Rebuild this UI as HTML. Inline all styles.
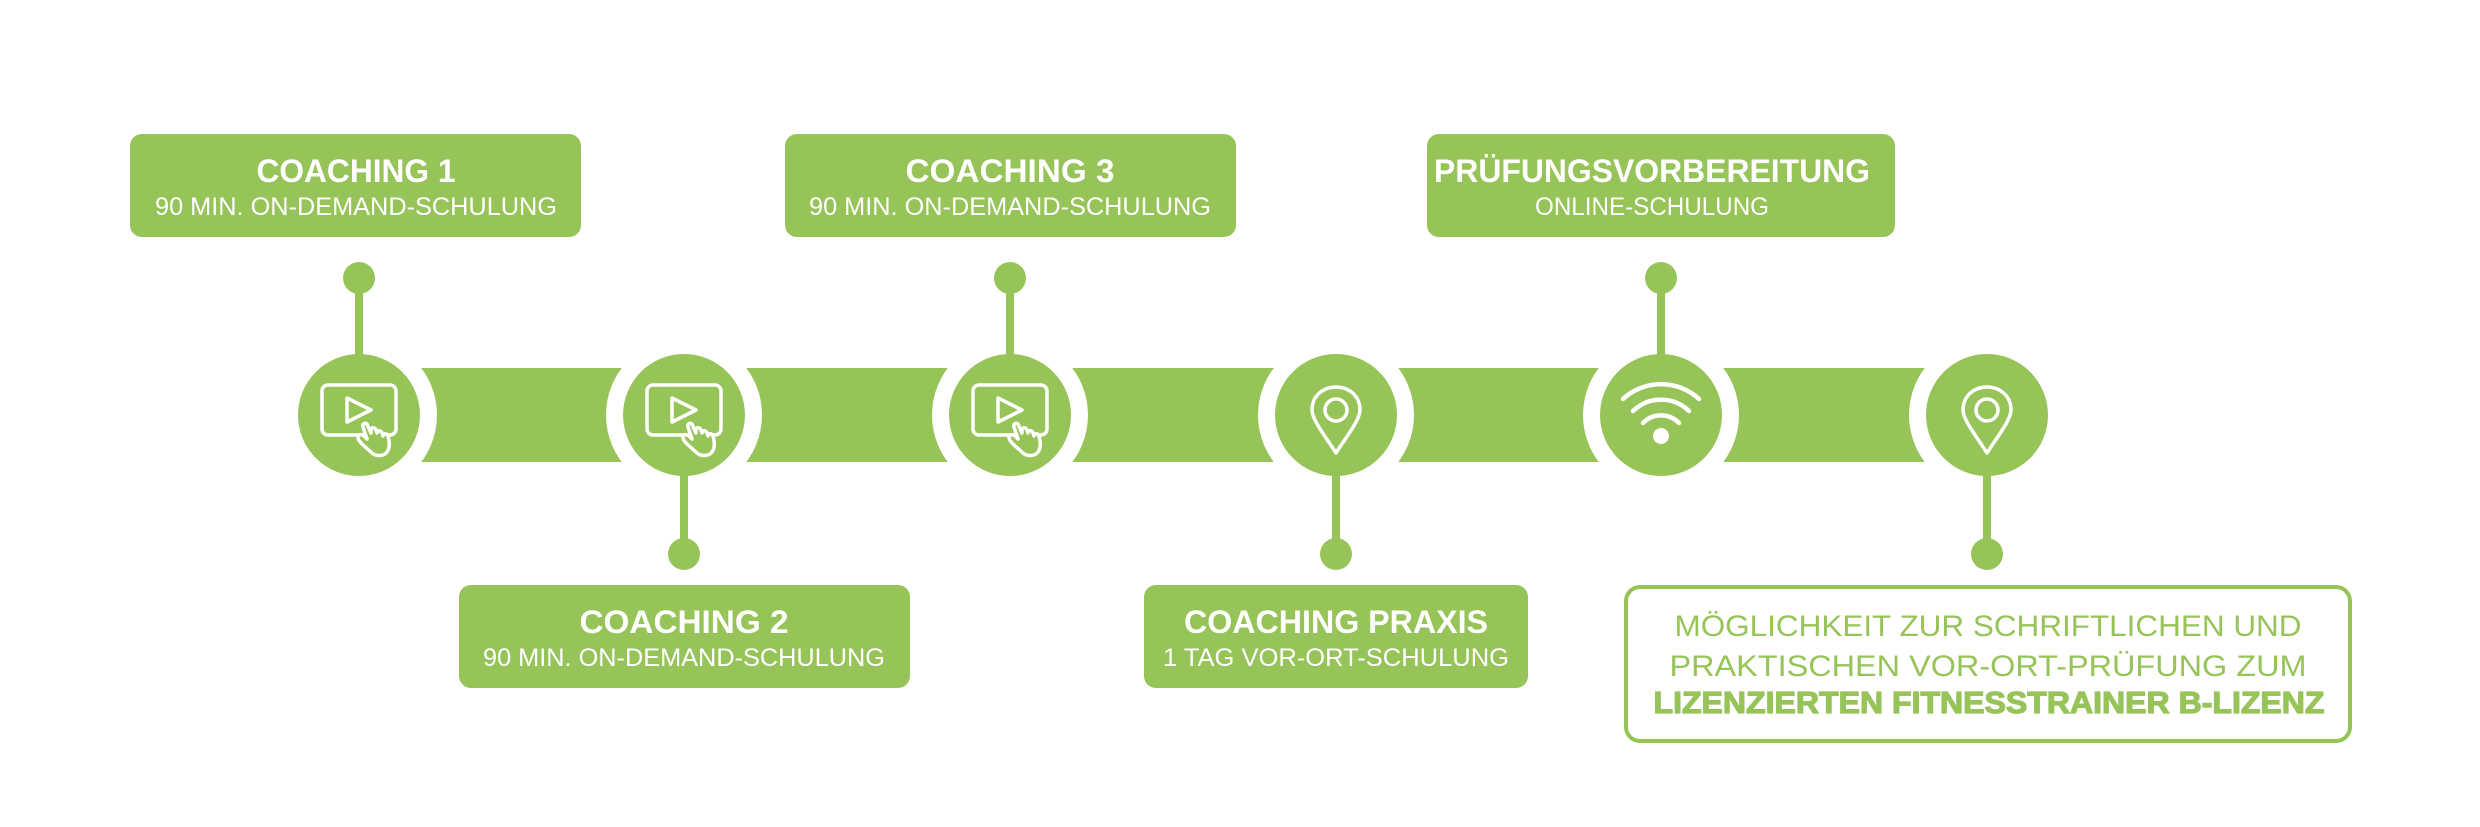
<!DOCTYPE html>
<html><head><meta charset="utf-8"><style>
html,body{margin:0;padding:0;background:#fff;}
svg{display:block;}
text{font-family:"Liberation Sans",sans-serif;}
</style></head><body>
<svg width="2480" height="827" viewBox="0 0 2480 827" xmlns="http://www.w3.org/2000/svg">
<defs>
<g id="play" fill="none" stroke="#fff" stroke-width="3.5" stroke-linejoin="round" stroke-linecap="round">
  <rect x="-37" y="-30" width="74" height="50" rx="6"/>
  <path d="M-12,-17 L12,-5 L-12,7 Z"/>
  <path d="M3,29 C-1,25 -2,22 0,20 C2,19 4,20 6,22 L8,24 L4,12 C3,9 6,7 8,9 L12,18 L12,15 C12,12 16,12 17,15 L18,18 C18,15 22,15 23,18 L24,21 C24,18 28,18 29,21 C31,28 31,33 28,37 C25,41 18,42 13,38 Z" fill="#97C459"/>
</g>
<g id="pin" fill="none" stroke="#fff" stroke-width="3.5" stroke-linejoin="round">
  <path d="M0,38 C-10,22 -24,5 -24,-5 C-24,-19 -13,-28 0,-28 C13,-28 24,-19 24,-5 C24,5 10,22 0,38 Z"/>
  <circle cx="0" cy="-5" r="11"/>
</g>
<g id="wifi" fill="none" stroke="#fff" stroke-width="4.5" stroke-linecap="round">
  <path d="M-38,-16 A56,56 0 0 1 38,-16"/>
  <path d="M-28,-4 A40,40 0 0 1 28,-4"/>
  <path d="M-18,8 A25,25 0 0 1 18,8"/>
  <ellipse cx="0" cy="21" rx="8" ry="8" fill="#fff" stroke="none"/>
</g>
</defs>
<g fill="#97C459">
<!-- band -->
<rect x="359" y="368" width="1628" height="94"/>
</g>
<g fill="#fff">
<circle cx="359" cy="415" r="78"/><circle cx="684" cy="415" r="78"/><circle cx="1010" cy="415" r="78"/>
<circle cx="1336" cy="415" r="78"/><circle cx="1661" cy="415" r="78"/><circle cx="1987" cy="415" r="78"/>
</g>
<g fill="#97C459">
<circle cx="359" cy="415" r="61"/><circle cx="684" cy="415" r="61"/><circle cx="1010" cy="415" r="61"/>
<circle cx="1336" cy="415" r="61"/><circle cx="1661" cy="415" r="61"/><circle cx="1987" cy="415" r="61"/>
<!-- connectors up -->
<rect x="355" y="278" width="8" height="80"/><circle cx="359" cy="278" r="16"/>
<rect x="1006" y="278" width="8" height="80"/><circle cx="1010" cy="278" r="16"/>
<rect x="1657" y="278" width="8" height="80"/><circle cx="1661" cy="278" r="16"/>
<!-- connectors down -->
<rect x="680" y="470" width="8" height="84"/><circle cx="684" cy="554" r="16"/>
<rect x="1332" y="470" width="8" height="84"/><circle cx="1336" cy="554" r="16"/>
<rect x="1983" y="470" width="8" height="84"/><circle cx="1987" cy="554" r="16"/>
<!-- boxes -->
<rect x="130" y="134" width="451" height="103" rx="12"/>
<rect x="785" y="134" width="451" height="103" rx="12"/>
<rect x="1427" y="134" width="468" height="103" rx="12"/>
<rect x="459" y="585" width="451" height="103" rx="12"/>
<rect x="1144" y="585" width="384" height="103" rx="12"/>
</g>
<rect x="1626" y="587" width="724" height="154" rx="14" fill="#fff" stroke="#97C459" stroke-width="4"/>
<use href="#play" x="359" y="415"/>
<use href="#play" x="684" y="415"/>
<use href="#play" x="1010" y="415"/>
<use href="#pin" x="1336" y="415"/>
<use href="#wifi" x="1661" y="415"/>
<use href="#pin" x="1987" y="415"/>
<g fill="#fff" text-anchor="middle">
<text x="356" y="182" font-size="32" font-weight="bold" textLength="199" lengthAdjust="spacingAndGlyphs">COACHING 1</text>
<text x="356" y="215" font-size="25" textLength="402" lengthAdjust="spacingAndGlyphs">90 MIN. ON-DEMAND-SCHULUNG</text>
<text x="1010" y="182" font-size="32" font-weight="bold" textLength="209" lengthAdjust="spacingAndGlyphs">COACHING 3</text>
<text x="1010" y="215" font-size="25" textLength="402" lengthAdjust="spacingAndGlyphs">90 MIN. ON-DEMAND-SCHULUNG</text>
<text x="1652" y="182" font-size="32" font-weight="bold" textLength="436" lengthAdjust="spacingAndGlyphs">PRÜFUNGSVORBEREITUNG</text>
<text x="1652" y="215" font-size="25" textLength="234" lengthAdjust="spacingAndGlyphs">ONLINE-SCHULUNG</text>
<text x="684" y="633" font-size="32" font-weight="bold" textLength="209" lengthAdjust="spacingAndGlyphs">COACHING 2</text>
<text x="684" y="666" font-size="25" textLength="402" lengthAdjust="spacingAndGlyphs">90 MIN. ON-DEMAND-SCHULUNG</text>
<text x="1336" y="633" font-size="32" font-weight="bold" textLength="304" lengthAdjust="spacingAndGlyphs">COACHING PRAXIS</text>
<text x="1336" y="666" font-size="25" textLength="346" lengthAdjust="spacingAndGlyphs">1 TAG VOR-ORT-SCHULUNG</text>
</g>
<g fill="#97C459" text-anchor="middle">
<text x="1988" y="636" font-size="30" textLength="627" lengthAdjust="spacingAndGlyphs">MÖGLICHKEIT ZUR SCHRIFTLICHEN UND</text>
<text x="1988" y="676" font-size="30" textLength="637" lengthAdjust="spacingAndGlyphs">PRAKTISCHEN VOR-ORT-PRÜFUNG ZUM</text>
<text x="1989" y="713" font-size="31" font-weight="bold" textLength="671" lengthAdjust="spacingAndGlyphs" stroke="#97C459" stroke-width="1.2">LIZENZIERTEN FITNESSTRAINER B-LIZENZ</text>
</g>
</svg>
</body></html>
